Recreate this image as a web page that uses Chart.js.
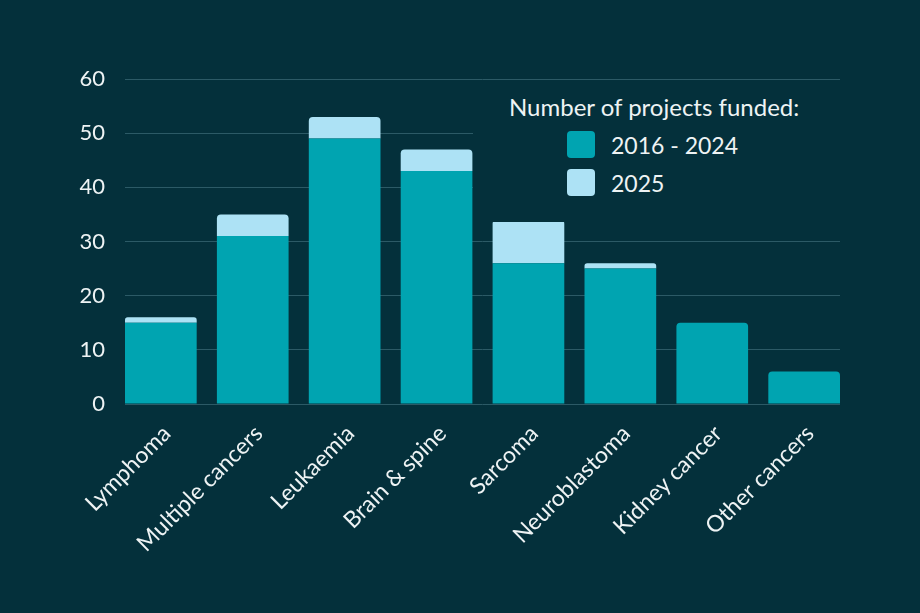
<!DOCTYPE html>
<html>
<head>
<meta charset="utf-8">
<script src="https://cdn.jsdelivr.net/npm/chart.js@4.4.1/dist/chart.umd.min.js"></script>
<style>
  body { margin: 0; background: #04303b; }
  #wrap { position: relative; width: 920px; height: 613px; }
  #legend {
    position: absolute; left: 473px; top: 88px; width: 367px; height: 134px;
    background: #04303b; font-family: Lato, sans-serif; color: #eef3f4;
  }
  #legend .title { position: absolute; left: 36px; top: 7px; font-size: 24px; line-height: 24px; white-space: nowrap; }
  #legend .item { position: absolute; left: 94px; height: 27px; display: flex; align-items: center; font-size: 23px; white-space: nowrap; }
  #legend .swatch { width: 28px; height: 27px; border-radius: 4px; margin-right: 16px; }
</style>
</head>
<body>
<div id="wrap">
  <canvas id="myChart" width="920" height="613"></canvas>
  <div id="legend"></div>
</div>
<script>
const categories = ["Lymphoma", "Multiple cancers", "Leukaemia", "Brain & spine", "Sarcoma", "Neuroblastoma", "Kidney cancer", "Other cancers"];
const earlier = [15, 31, 49, 43, 26, 25, 15, 6];   // 2016 - 2024
const latest = [1, 4, 4, 4, 8, 1, 0, 0];           // 2025
const seriesNames = ["2016 - 2024", "2025"];
const yTicks = [0, 10, 20, 30, 40, 50, 60];

const bg = "#04303b";
const textColor = "#eef3f4";

// ------------------ CHART ------------------ //
const ctx = document.getElementById("myChart").getContext("2d");
const chart = new Chart(ctx, {
  type: "bar",
  data: {
    datasets: [
      {
        label: seriesNames[0],
        data: earlier.map((v, i) => ({ x: i, y: v })),
        backgroundColor: "#00a4b1"
      },
      {
        label: seriesNames[1],
        data: latest.map((v, i) => ({ x: i, y: v })),
        backgroundColor: "#ade2f5"
      }
    ]
  },
  options: {
    responsive: false,
    animation: false,
    layout: { padding: { top: 79, right: 80, left: 0, bottom: 0 } },
    datasets: {
      bar: { categoryPercentage: 1, barPercentage: 0.78, borderRadius: 4, borderSkipped: "start" }
    },
    plugins: { legend: { display: false }, tooltip: { enabled: false } },
    scales: {
      x: {
        type: "linear",
        stacked: true,
        offset: false,
        min: -0.39,
        max: categories.length - 1 + 0.39,
        grid: { display: false },
        border: { display: false },
        afterFit: s => { s.height = 209; },
        ticks: {
          stepSize: 1,
          includeBounds: false,
          autoSkip: false,
          maxRotation: 45,
          minRotation: 45,
          padding: 8,
          labelOffset: 6,
          color: textColor,
          font: { family: "Lato", size: 23 },
          callback: v => categories[v] ?? ""
        }
      },
      y: {
        stacked: true,
        min: yTicks[0],
        max: yTicks[yTicks.length - 1],
        grid: { color: "#2c5a66", lineWidth: 1, drawTicks: false },
        border: { display: false },
        afterFit: s => { s.width = 125; },
        afterBuildTicks: s => { s.ticks = yTicks.map(v => ({ value: v })); },
        ticks: {
          padding: 20,
          color: textColor,
          font: { family: "Lato", size: 22 }
        }
      }
    }
  }
});

// ------------------ LEGEND (html, sits over the plot) ------------------ //
const legendBox = document.getElementById("legend");
const title = document.createElement("div");
title.className = "title";
title.textContent = "Number of projects funded:";
legendBox.appendChild(title);

chart.data.datasets.forEach((ds, i) => {
  const item = document.createElement("div");
  item.className = "item";
  item.style.top = (43 + i * 38) + "px";
  const sw = document.createElement("span");
  sw.className = "swatch";
  sw.style.background = ds.backgroundColor;
  const label = document.createElement("span");
  label.textContent = ds.label;
  item.appendChild(sw);
  item.appendChild(label);
  legendBox.appendChild(item);
});
</script>
</body>
</html>
